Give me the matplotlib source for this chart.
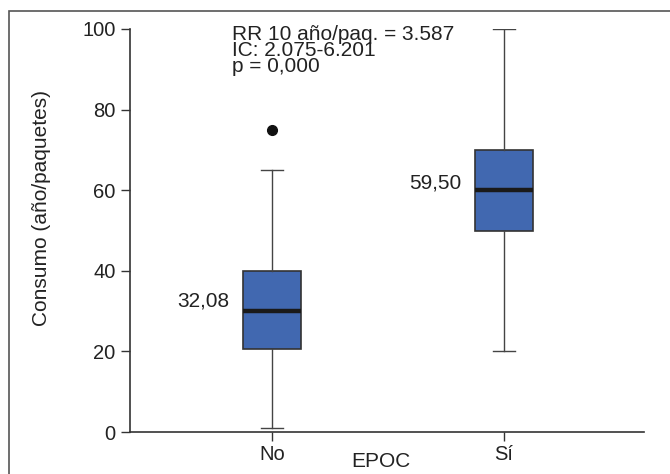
import matplotlib
matplotlib.use("Agg")
import matplotlib.pyplot as plt
from matplotlib.patches import Rectangle

plt.rcParams['font.family'] = ['Liberation Sans', 'DejaVu Sans']

categories = ["No", "Sí"]
q1 = [20.5, 50.0]
medians = [30.0, 60.0]
q3 = [40.0, 70.0]
whisker_low = [1.0, 20.0]
whisker_high = [65.0, 100.0]
outliers = [[75.0], []]
mean_labels = ["32,08", "59,50"]
mean_label_y = [32.6, 61.8]
annotation = "RR 10 año/paq. = 3.587\nIC: 2.075-6.201\np = 0,000"
y_ticks = [0, 20, 40, 60, 80, 100]

fig = plt.figure(figsize=(6.70, 4.74), dpi=100)
fig.patches.append(Rectangle((9/670, -0.1), 2, (474-11)/474 + 0.1, transform=fig.transFigure,
                             fill=False, edgecolor='#555555', linewidth=1.2, zorder=0))
ax = fig.add_axes([130/670, 42/474, 514/670, 403/474])

stats = []
for i, c in enumerate(categories):
    stats.append(dict(label=c, med=medians[i], q1=q1[i], q3=q3[i],
                      whislo=whisker_low[i], whishi=whisker_high[i], fliers=outliers[i]))

positions = [1, 2]
ax.bxp(stats, positions=positions, widths=0.25, capwidths=0.095, patch_artist=True,
       boxprops=dict(facecolor='#4168B0', edgecolor='#333333', linewidth=1.2),
       medianprops=dict(color='#1a1a1a', linewidth=3.2),
       whiskerprops=dict(color='#444444', linewidth=1.0),
       capprops=dict(color='#444444', linewidth=1.0),
       flierprops=dict(marker='o', markerfacecolor='#111111', markeredgecolor='#111111', markersize=7))

for i, lab in enumerate(mean_labels):
    ax.text(positions[i] - 0.185, mean_label_y[i], lab, ha='right', va='center', fontsize=15, color='#222222')

ax.text(0.828, 101.0, annotation, ha='left', va='top', fontsize=15, color='#222222',
        linespacing=0.8, clip_on=False)

ax.set_xlim(0.388, 2.603)
ax.set_ylim(0, 100)
ax.set_yticks(y_ticks)
ax.set_xticks(positions)
ax.set_xticklabels(categories)
ax.tick_params(axis='both', labelsize=14.5, colors='#333333', labelcolor='#222222', length=6.5, width=1.0, direction='out')
ax.tick_params(axis='y', pad=4)
ax.tick_params(axis='x', pad=3)
ax.set_ylabel("Consumo (año/paquetes)", fontsize=15, color='#222222', va='center')
ax.yaxis.set_label_coords(-0.172, 0.556)
ax.set_xlabel("EPOC", fontsize=15, color='#222222', va='center')
ax.xaxis.set_label_coords(0.488, -0.074)
for s in ['top', 'right']:
    ax.spines[s].set_visible(False)
for s in ['left', 'bottom']:
    ax.spines[s].set_color('#333333')
    ax.spines[s].set_linewidth(1.2)

fig.savefig("out.png", dpi=100)
